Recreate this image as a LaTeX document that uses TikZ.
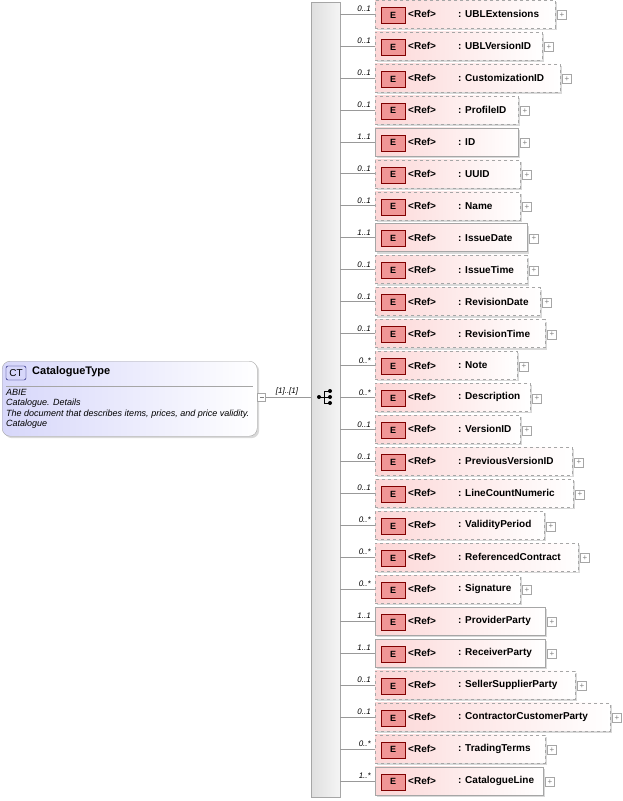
\documentclass[tikz,border=0pt]{standalone}
\usepackage{fontspec}
\setmainfont{Liberation Sans}
\usetikzlibrary{shadows}
\definecolor{pinkD}{RGB}{252,215,215}
\definecolor{ered}{RGB}{240,150,150}
\definecolor{ctblue}{RGB}{215,215,250}
\begin{document}
\begin{tikzpicture}[x=1pt,y=-1pt,
  elbox/.style={draw=gray!70,left color=pinkD,right color=white,minimum height=28pt,anchor=west,inner sep=0pt,drop shadow={shadow xshift=2pt,shadow yshift=-2pt,opacity=0.3}},
  etag/.style={draw=red!50!black,fill=ered,minimum width=24pt,minimum height=16pt,inner sep=0pt,font=\fontsize{9}{10}\selectfont\bfseries},
  card/.style={font=\fontsize{8}{9}\selectfont\itshape,anchor=south east,inner sep=1pt},
  plus/.style={draw=gray!70,fill=white,minimum size=9pt,inner sep=0pt,font=\fontsize{8}{8}\selectfont,text=gray},
  conn/.style={draw=gray!80,line width=0.6pt},
  lbl/.style={font=\fontsize{10}{12}\selectfont\bfseries,anchor=west,inner sep=0pt}]
\useasboundingbox (0,0) rectangle (622,801);
% bar
\node[draw=gray!70,left color=gray!25,right color=gray!8,minimum width=29pt,minimum height=795pt,inner sep=0pt,anchor=north west] (bar) at (311,2) {};
% CT box
\node[draw=gray!70,rounded corners=8pt,left color=ctblue,right color=white,minimum width=255pt,minimum height=75pt,anchor=north west,inner sep=0pt,drop shadow={shadow xshift=2pt,shadow yshift=-2pt,opacity=0.3}] (ct) at (2,361) {};
\node[draw=blue!40!black,fill=ctblue,rounded corners=2pt,minimum width=20pt,minimum height=14pt,inner sep=0pt,font=\fontsize{10}{10}\selectfont] (cttag) at (16,373) {CT};
\node[lbl,font=\fontsize{11}{12}\selectfont\bfseries] (ctname) at (32,372) {CatalogueType};
\draw[gray!70] (6,386) -- (253,386);
\node[anchor=north west,inner sep=0pt,align=left,font=\fontsize{9}{10.5}\selectfont\itshape] (ctdoc) at (6,389) {ABIE\\Catalogue. Details\\The document that describes items, prices, and price validity.\\Catalogue};
\node[plus,minimum size=8pt] (minus) at (261.5,397) {};
\draw[gray] (259.5,397) -- (263.5,397);
\draw[conn] (minus.east) -- (bar.west |- minus.east);
\node[font=\fontsize{8}{9}\selectfont\itshape,anchor=south,inner sep=1pt] (mult) at (287,396) {[1]..[1]};
% sequence icon
\coordinate (seq) at (325,397);
\fill (319,397) circle (2pt);
\draw[line width=0.8pt] (319,397) -- (324,397) (324,391) -- (324,403) (324,391) -- (330,391) (324,397) -- (330,397) (324,403) -- (330,403);
\fill (330,391) circle (2pt) (330,397) circle (2pt) (330,403) circle (2pt);
\foreach \i/\nm/\r/\c/\d in {
0/UBLExtensions/555/0..1/1, 1/UBLVersionID/542/0..1/1, 2/CustomizationID/560/0..1/1,
3/ProfileID/518/0..1/1, 4/ID/518/1..1/0, 5/UUID/520/0..1/1, 6/Name/520/0..1/1,
7/IssueDate/527/1..1/0, 8/IssueTime/527/0..1/1, 9/RevisionDate/540/0..1/1,
10/RevisionTime/545/0..1/1, 11/Note/517/0..*/1, 12/Description/530/0..*/1,
13/VersionID/520/0..1/1, 14/PreviousVersionID/572/0..1/1, 15/LineCountNumeric/573/0..1/1,
16/ValidityPeriod/544/0..*/1, 17/ReferencedContract/578/0..*/1, 18/Signature/520/0..*/1,
19/ProviderParty/545/1..1/0, 20/ReceiverParty/545/1..1/0, 21/SellerSupplierParty/575/0..1/1,
22/ContractorCustomerParty/610/0..1/1, 23/TradingTerms/545/0..*/1, 24/CatalogueLine/543/1..*/0}{
  \pgfmathsetmacro{\yy}{14+31.95*\i}
  \pgfmathsetmacro{\ww}{\r-375}
  \ifnum\d=1 \def\bst{dashed}\else\def\bst{solid}\fi
  \node[elbox,\bst,minimum width=\ww pt] (e\i) at (375,\yy) {};
  \node[etag] (t\i) at (393,\yy+1) {E};
  \node[lbl] (ref\i) at (408,\yy) {<Ref>};
  \node[lbl] (n\i) at (458,\yy) {: \nm};
  \node[plus] (p\i) at (\r+7,\yy+1) {+};
  \draw[conn] (bar.east |- e\i.west) -- (e\i.west);
  \node[card] (c\i) at (372,\yy-1) {\c};
}
\end{tikzpicture}
\end{document}
